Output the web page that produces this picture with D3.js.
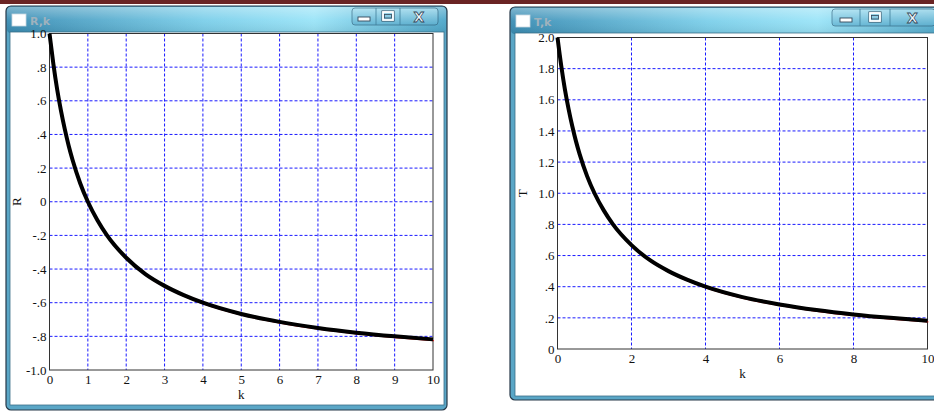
<!DOCTYPE html>
<html><head><meta charset="utf-8">
<script src="https://cdn.jsdelivr.net/npm/d3@7"></script>
<style>
html,body{margin:0;padding:0;background:#fff;}
svg{display:block;}
</style></head>
<body>
<svg id="c" width="934" height="412"></svg>
<script>
// ---- data ----
const kValues = [0, 0.1, 0.2, 0.3, 0.4, 0.5, 0.6, 0.8, 1, 1.25, 1.5, 2, 2.5, 3, 3.5, 4, 5, 6, 7, 8, 9, 10];
const rValues = [1.0, 0.82, 0.667, 0.54, 0.43, 0.333, 0.25, 0.11, 0, -0.11, -0.2, -0.333, -0.43, -0.5, -0.555, -0.6, -0.667, -0.714, -0.75, -0.778, -0.8, -0.818];
const tValues = [2.0, 1.82, 1.667, 1.54, 1.43, 1.333, 1.25, 1.11, 1.0, 0.89, 0.8, 0.667, 0.57, 0.5, 0.445, 0.4, 0.333, 0.286, 0.25, 0.222, 0.2, 0.182];
const rTicks = [1.0, 0.8, 0.6, 0.4, 0.2, 0, -0.2, -0.4, -0.6, -0.8, -1.0];
const rTickLabels = ["1.0", ".8", ".6", ".4", ".2", "0", "-.2", "-.4", "-.6", "-.8", "-1.0"];
const tTicks = [2.0, 1.8, 1.6, 1.4, 1.2, 1.0, 0.8, 0.6, 0.4, 0.2, 0];
const tTickLabels = ["2.0", "1.8", "1.6", "1.4", "1.2", "1.0", ".8", ".6", ".4", ".2", "0"];
const kTicksR = [0, 1, 2, 3, 4, 5, 6, 7, 8, 9, 10];
const kTicksT = [0, 2, 4, 6, 8, 10];
const windowTitles = ["R,k", "T,k"];
const yTitles = ["R", "T"];
const xTitle = "k";

const svg = d3.select("#c");
const defs = svg.append("defs");
const tg = defs.append("linearGradient").attr("id","titleGrad").attr("x1","0").attr("x2","1").attr("y1","0").attr("y2","0");
tg.append("stop").attr("offset","0").attr("stop-color","#3a8db4");
tg.append("stop").attr("offset","0.45").attr("stop-color","#7ccfea");
tg.append("stop").attr("offset","0.7").attr("stop-color","#9ae4f8");
tg.append("stop").attr("offset","1").attr("stop-color","#4ea7ca");
const vg = defs.append("linearGradient").attr("id","titleV").attr("x1","0").attr("x2","0").attr("y1","0").attr("y2","1");
vg.append("stop").attr("offset","0").attr("stop-color","#ffffff").attr("stop-opacity","0.35");
vg.append("stop").attr("offset","0.5").attr("stop-color","#ffffff").attr("stop-opacity","0.05");
vg.append("stop").attr("offset","1").attr("stop-color","#000000").attr("stop-opacity","0.08");
const bg = defs.append("linearGradient").attr("id","btnGrad").attr("x1","0").attr("x2","0").attr("y1","0").attr("y2","1");
bg.append("stop").attr("offset","0").attr("stop-color","#b8e6f4");
bg.append("stop").attr("offset","1").attr("stop-color","#5eafcf");

// maroon strip at top
svg.append("rect").attr("x",0).attr("y",0).attr("width",934).attr("height",4).attr("fill","#6a2424");

function drawWindow(o) {
  const g = svg.append("g");
  g.append("rect").attr("x",o.x).attr("y",o.y).attr("width",o.w).attr("height",o.h)
    .attr("rx",5).attr("fill","#5aa6c6").attr("stroke","#263848").attr("stroke-width",1.2);
  g.append("rect").attr("x",o.x+1).attr("y",o.y+1).attr("width",o.w-2).attr("height",o.cy-o.y)
    .attr("rx",4).attr("fill","url(#titleGrad)");
  g.append("rect").attr("x",o.x+1).attr("y",o.y+1).attr("width",o.w-2).attr("height",o.cy-o.y)
    .attr("rx",4).attr("fill","url(#titleV)");
  g.append("rect").attr("x",o.cx).attr("y",o.cy).attr("width",o.cw).attr("height",o.ch)
    .attr("fill","#fff").attr("stroke","#3b6f88").attr("stroke-width",0.8);
  g.append("rect").attr("x",o.x+6).attr("y",o.y+8).attr("width",14).attr("height",12)
    .attr("fill","#fff").attr("stroke","#c8d8e0").attr("stroke-width",0.8);
  g.append("text").attr("x",o.x+24).attr("y",o.y+19).text(o.title)
    .attr("font-family","DejaVu Sans, sans-serif").attr("font-size",11).attr("font-weight","bold")
    .attr("fill","#9fb2bd");
  const bx = o.bx, by = o.y+2, bh = 17;
  g.append("rect").attr("x",bx[0]).attr("y",by).attr("width",bx[3]-bx[0]).attr("height",bh)
    .attr("rx",3).attr("fill","url(#btnGrad)").attr("stroke","#2e5e78").attr("stroke-width",0.8).attr("opacity",0.75);
  [bx[1],bx[2]].forEach(x=>g.append("line").attr("x1",x).attr("x2",x).attr("y1",by).attr("y2",by+bh)
    .attr("stroke","#3f7d9a").attr("stroke-width",0.8));
  const mc = (bx[0]+bx[1])/2;
  g.append("rect").attr("x",mc-6).attr("y",by+9).attr("width",12).attr("height",4).attr("fill","#fff").attr("stroke","#33485a").attr("stroke-width",0.9);
  const xc = (bx[1]+bx[2])/2;
  g.append("rect").attr("x",xc-6).attr("y",by+3).attr("width",12).attr("height",10).attr("fill","none").attr("stroke","#33485a").attr("stroke-width",1);
  g.append("rect").attr("x",xc-5).attr("y",by+4).attr("width",10).attr("height",8).attr("fill","none").attr("stroke","#fff").attr("stroke-width",1.8);
  g.append("rect").attr("x",xc-3.5).attr("y",by+6.5).attr("width",7).attr("height",3.5).attr("fill","none").attr("stroke","#33485a").attr("stroke-width",0.8);
  const cc = (bx[2]+bx[3])/2;
  g.append("text").attr("x",cc).attr("y",by+13.5).attr("text-anchor","middle").text("X")
    .attr("font-family","DejaVu Sans, sans-serif").attr("font-size",14).attr("font-weight","bold")
    .attr("fill","#f4f8fa").attr("stroke","#33485a").attr("stroke-width",0.8);
  return g;
}

drawWindow({x:6,y:6,w:441,h:404,cx:10,cy:32,cw:434,ch:373,title:windowTitles[0],bx:[352,376,400,438]});
drawWindow({x:510,y:7,w:440,h:393,cx:515,cy:33,cw:430,ch:363,title:windowTitles[1],bx:[832,860,890,935]});

const font = "Liberation Serif, Times New Roman, serif";

function drawPlot(o) {
  const g = svg.append("g");
  const x = d3.scaleLinear().domain([0,10]).range([o.l, o.r]);
  const y = d3.scaleLinear().domain(o.yDomain).range([o.b, o.t]);
  g.append("g").selectAll("line").data(o.xTicks.filter(d=>d>0 && d<10)).join("line")
    .attr("x1",d=>x(d)).attr("x2",d=>x(d)).attr("y1",o.t).attr("y2",o.b)
    .attr("stroke","#1a1aff").attr("stroke-width",1).attr("stroke-dasharray","3,2");
  g.append("g").selectAll("line").data(o.yTicks.filter(d=>d!==o.yDomain[0] && d!==o.yDomain[1])).join("line")
    .attr("x1",o.l).attr("x2",o.r).attr("y1",d=>y(d)).attr("y2",d=>y(d))
    .attr("stroke","#1a1aff").attr("stroke-width",1).attr("stroke-dasharray","3,2");
  g.append("rect").attr("x",o.l).attr("y",o.t).attr("width",o.r-o.l).attr("height",o.b-o.t)
    .attr("fill","none").attr("stroke","#333").attr("stroke-width",1);
  const ax = d3.axisBottom(x).tickValues(o.xTicks).tickSize(0).tickPadding(5).tickFormat(d3.format("d"));
  const axg = g.append("g").attr("transform",`translate(0,${o.b})`).call(ax);
  axg.select(".domain").remove();
  axg.selectAll("text").attr("font-family",font).attr("font-size",13).attr("fill","#111");
  const ay = d3.axisLeft(y).tickValues(o.yTicks).tickSize(0).tickPadding(3).tickFormat((d,i)=>o.yLabels[i]);
  const ayg = g.append("g").attr("transform",`translate(${o.l},0)`).call(ay);
  ayg.select(".domain").remove();
  ayg.selectAll("text").attr("font-family",font).attr("font-size",13).attr("fill","#111");
  g.append("text").attr("x",(o.l+o.r)/2).attr("y",o.b+29).attr("text-anchor","middle").text(xTitle)
    .attr("font-family",font).attr("font-size",13).attr("fill","#111");
  g.append("text").attr("transform",`translate(${o.yTitleX},${(o.t+o.b)/2}) rotate(-90)`)
    .attr("text-anchor","middle").text(o.yTitle)
    .attr("font-family",font).attr("font-size",13).attr("fill","#111");
  const pts = kValues.map((k,i)=>[k,o.values[i]]);
  const line = d3.line().x(d=>x(d[0])).y(d=>y(d[1])).curve(d3.curveMonotoneX);
  g.append("path").attr("d",line(pts)).attr("fill","none").attr("stroke","#e01010").attr("stroke-width",1.3)
    .attr("transform","translate(0.8,1.2)");
  g.append("path").attr("d",line(pts)).attr("fill","none").attr("stroke","#000").attr("stroke-width",4)
    .attr("stroke-linejoin","round");
}

drawPlot({l:49.5,r:433,t:33.5,b:370,yDomain:[-1,1],yTicks:rTicks,yLabels:rTickLabels,xTicks:kTicksR,values:rValues,yTitle:yTitles[0],yTitleX:21});
drawPlot({l:557.5,r:927.5,t:37.5,b:349,yDomain:[0,2],yTicks:tTicks,yLabels:tTickLabels,xTicks:kTicksT,values:tValues,yTitle:yTitles[1],yTitleX:527});
</script>
</body></html>
